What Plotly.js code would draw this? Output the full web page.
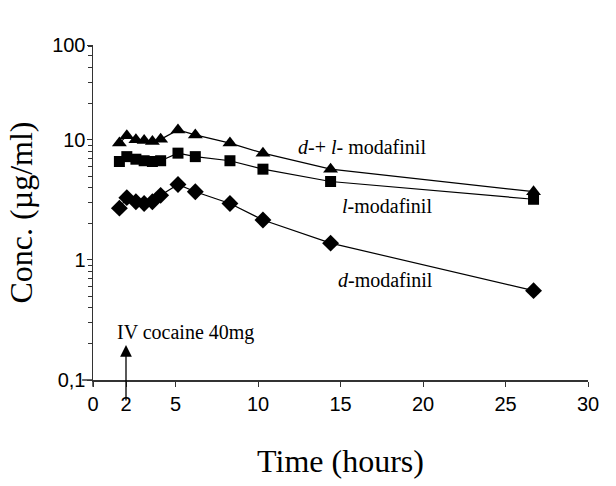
<!DOCTYPE html>
<html><head><meta charset="utf-8">
<script src="https://cdn.plot.ly/plotly-3.0.1.min.js"></script>
<style>html,body{margin:0;padding:0;background:#fff}</style>
</head><body><div id="chart" style="width:616px;height:486px"></div>
<script>
const timeHours = [1.6, 2.05, 2.6, 3.1, 3.6, 4.1, 5.15, 6.2, 8.3, 10.3, 14.4, 26.7];
const dlModafinil = [9.4, 10.8, 10.0, 9.9, 9.7, 10.1, 12.1, 11.0, 9.4, 7.75, 5.7, 3.7];
const lModafinil = [6.6, 7.25, 6.9, 6.7, 6.6, 6.7, 7.75, 7.25, 6.7, 5.7, 4.5, 3.2];
const dModafinil = [2.7, 3.3, 3.05, 2.95, 3.05, 3.45, 4.25, 3.7, 2.95, 2.15, 1.38, 0.555];
const yTickVals = [0.1, 1, 10, 61.5];
const yTickLabels = ['0,1', '1', '10', '100'];
const xTickVals = [0, 2, 5, 10, 15, 20, 25, 30];
const xTickLabels = ['0', '2', '5', '10', '15', '20', '25', '30'];
const seriesLabels = ['<i>d</i>-+ <i>l</i>- modafinil', '<i>l</i>-modafinil', '<i>d</i>-modafinil'];
const doseLabel = 'IV cocaine 40mg';

const minorVals = [];
[0.1, 1, 10].forEach(function (d) { for (let k = 2; k <= 9; k++) { if (d * k < 61) minorVals.push(d * k); } });

const serif = 'Liberation Serif, Times New Roman, serif';
const sans = 'Liberation Sans, Arial, sans-serif';

function tr(y, sym, size) {
  return {x: timeHours, y: y, type: 'scatter', mode: 'lines+markers',
    line: {color: '#000', width: 1.2},
    marker: {symbol: sym, size: size, color: '#000'}, showlegend: false, cliponaxis: false};
}

const data = [tr(dlModafinil, 'triangle-up', 13), tr(lModafinil, 'square', 11), tr(dModafinil, 'diamond', 13)];

const layout = {
  width: 616, height: 486,
  margin: {l: 93, r: 28, t: 45, b: 106},
  paper_bgcolor: '#fff', plot_bgcolor: '#fff',
  showlegend: false,
  xaxis: {range: [0, 30], tickvals: xTickVals, ticktext: xTickLabels,
    showgrid: false, zeroline: false, showline: true, linecolor: '#333', linewidth: 1.5,
    ticks: 'outside', ticklen: 5, tickcolor: '#333',
    tickfont: {family: sans, size: 20, color: '#000'},
    title: {text: 'Time (hours)', font: {family: serif, size: 32, color: '#000'}, standoff: 36}},
  yaxis: {type: 'log', range: [-1, 1.79], tickvals: yTickVals, ticktext: yTickLabels,
    showgrid: false, zeroline: false, showline: true, linecolor: '#333', linewidth: 1.5,
    ticks: 'outside', ticklen: 5, tickcolor: '#333', ticklabelstandoff: -3,
    minor: {tickvals: minorVals, ticks: 'outside', ticklen: 4, tickcolor: '#333', showgrid: false},
    tickfont: {family: sans, size: 20, color: '#000'},
    title: {text: 'Conc. (µg/ml)', font: {family: serif, size: 32, color: '#000'}, standoff: 10}},
  shapes: [
    {type: 'line', xref: 'paper', yref: 'paper', x0: -0.022, x1: 0, y0: 0, y1: 0, line: {color: '#333', width: 1.5}},
    {type: 'line', xref: 'paper', yref: 'paper', x0: 0, x1: 0, y0: 0, y1: -0.02, line: {color: '#333', width: 1.5}}
  ],
  annotations: [
    {x: 16.3, y: 0.942, xref: 'x', yref: 'y', text: seriesLabels[0], showarrow: false,
      font: {family: serif, size: 20, color: '#000'}},
    {x: 17.8, y: 0.45, xref: 'x', yref: 'y', text: seriesLabels[1], showarrow: false,
      font: {family: serif, size: 20, color: '#000'}},
    {x: 17.7, y: -0.167, xref: 'x', yref: 'y', text: seriesLabels[2], showarrow: false,
      font: {family: serif, size: 20, color: '#000'}},
    {x: 1.33, y: -0.608, xref: 'x', yref: 'y', text: doseLabel, showarrow: false, xanchor: 'left',
      font: {family: serif, size: 20, color: '#000'}},
    {x: 2, y: -0.708, xref: 'x', yref: 'y', text: '', showarrow: true, ax: 0, ay: 57,
      arrowhead: 2, arrowsize: 1.8, arrowwidth: 1.3, arrowcolor: '#000'}
  ]
};

Plotly.newPlot('chart', data, layout, {displayModeBar: false, staticPlot: true});
</script>
</body></html>
